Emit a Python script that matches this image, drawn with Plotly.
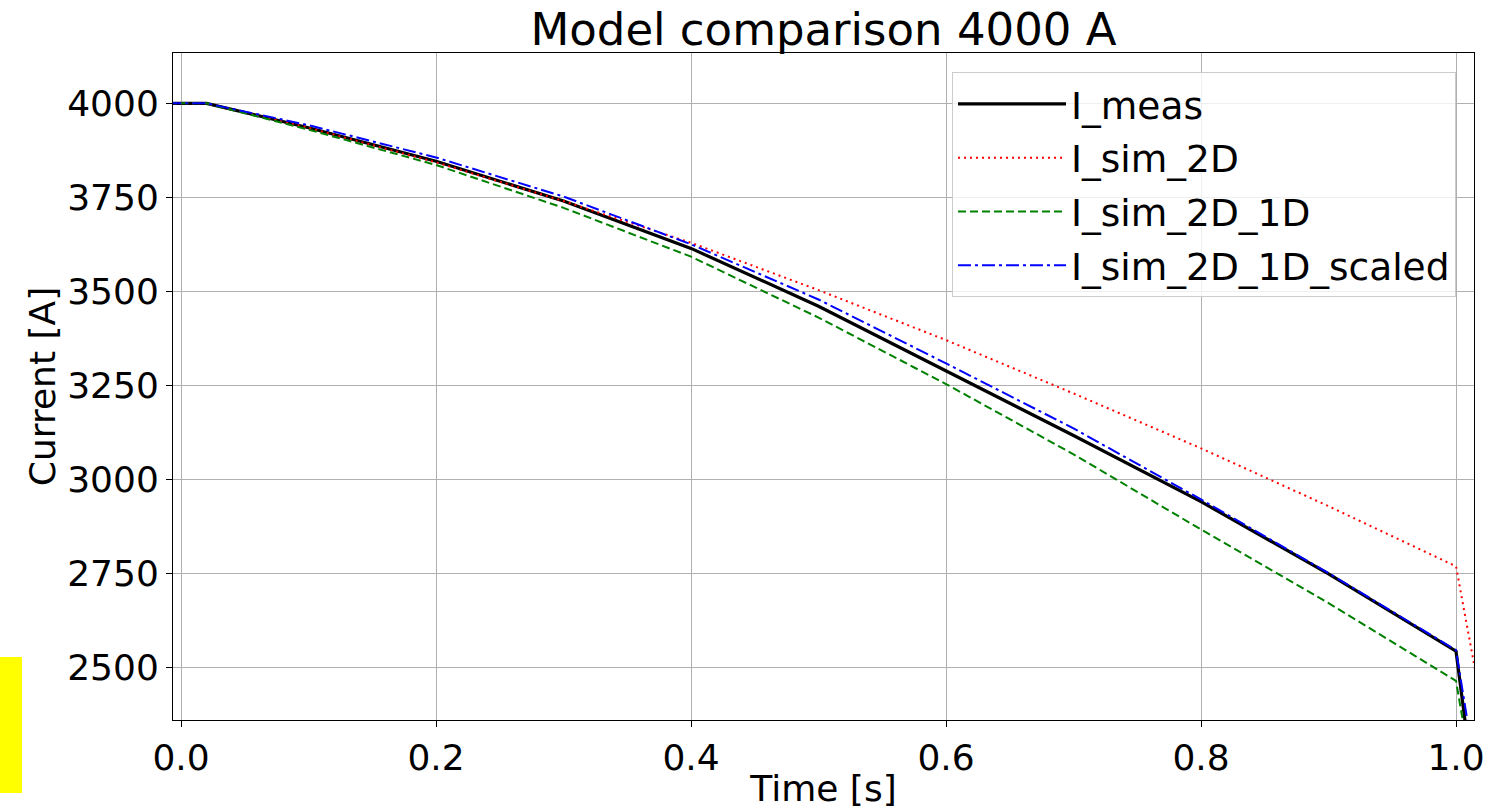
import plotly.graph_objects as go

# ---- data ----
t_meas = [-0.01, 0.0, 0.02, 0.1, 0.2, 0.3, 0.4, 0.5, 0.6, 0.7, 0.8, 0.9, 1.0, 1.01]
i_meas = [4000, 4000, 4000, 3935, 3846, 3740, 3614, 3460, 3287, 3116, 2940, 2748, 2542, 2280]

t_2d = [-0.01, 0.0, 0.02, 0.1, 0.2, 0.3, 0.4, 0.5, 0.6, 0.7, 0.8, 0.9, 1.0, 1.02]
i_2d = [4000, 4000, 4000, 3935, 3843, 3740, 3629, 3503, 3370, 3228, 3082, 2928, 2768, 2400]

t_2d1d = [-0.01, 0.0, 0.02, 0.1, 0.2, 0.3, 0.4, 0.5, 0.6, 0.7, 0.8, 0.9, 1.0, 1.01]
i_2d1d = [4000, 4000, 4000, 3930, 3836, 3722, 3592, 3430, 3253, 3066, 2866, 2670, 2463, 2265]

t_scaled = [-0.01, 0.0, 0.02, 0.1, 0.2, 0.3, 0.4, 0.5, 0.6, 0.7, 0.8, 0.9, 1.0, 1.01]
i_scaled = [4000, 4000, 4000, 3942, 3856, 3752, 3625, 3478, 3308, 3135, 2946, 2750, 2545, 2335]

x_ticks = [0.0, 0.2, 0.4, 0.6, 0.8, 1.0]
x_ticklabels = ["0.0", "0.2", "0.4", "0.6", "0.8", "1.0"]
y_ticks = [2500, 2750, 3000, 3250, 3500, 3750, 4000]
y_ticklabels = ["2500", "2750", "3000", "3250", "3500", "3750", "4000"]

names = ["I_meas", "I_sim_2D", "I_sim_2D_1D", "I_sim_2D_1D_scaled"]

FONT = "DejaVu Sans"
W, H = 1498, 809
L, R, T, B = 173, 1474, 53, 720

fig = go.Figure()
fig.add_trace(go.Scatter(x=t_meas, y=i_meas, mode="lines", name=names[0], legendgroup="a",
                         line=dict(color="black", width=3.2)))
fig.add_trace(go.Scatter(x=t_2d, y=i_2d, mode="lines", name=names[1], legendgroup="b",
                         line=dict(color="red", width=2, dash="2px,4px")))
fig.add_trace(go.Scatter(x=t_2d1d, y=i_2d1d, mode="lines", name=names[2], legendgroup="c",
                         line=dict(color="green", width=2, dash="8px,4px")))
fig.add_trace(go.Scatter(x=t_scaled, y=i_scaled, mode="lines", name=names[3], legendgroup="d",
                         line=dict(color="blue", width=2, dash="13px,4px,3px,4px")))

pw, ph = R - L, B - T

fig.update_layout(
    width=W, height=H,
    margin=dict(l=L, r=W - R, t=T, b=H - B, pad=0, autoexpand=False),
    paper_bgcolor="white", plot_bgcolor="white",
    font=dict(family=FONT, size=36, color="black"),
    title=dict(text="Model comparison 4000 A", font=dict(family=FONT, size=45, color="black"),
               x=(L + R) / 2 / W, xanchor="center", xref="container",
               y=1 - 29 / H, yanchor="middle", yref="container"),
    xaxis=dict(range=[-0.0063, 1.0141], tickvals=x_ticks, ticktext=x_ticklabels,
               showgrid=True, gridcolor="#b0b0b0", gridwidth=1,
               showline=True, linecolor="black", linewidth=1, mirror=True,
               ticks="outside", ticklen=6, tickcolor="black", tickwidth=1,
               zeroline=False, tickfont=dict(size=36), automargin=False,
               title=dict(text="Time [s]", font=dict(size=36), standoff=12)),
    yaxis=dict(range=[2359, 4134], tickvals=y_ticks, ticktext=y_ticklabels,
               showgrid=True, gridcolor="#b0b0b0", gridwidth=1,
               showline=True, linecolor="black", linewidth=1, mirror=True,
               ticks="outside", ticklen=6, tickcolor="black", tickwidth=1,
               zeroline=False, tickfont=dict(size=36), automargin=False,
               title=dict(text="Current [A]", font=dict(size=36), standoff=0)),
    legend=dict(x=(1456 - L) / pw, xanchor="right", y=(B - 72) / ph, yanchor="top",
                bgcolor="rgba(255,255,255,0.8)", bordercolor="#cccccc", borderwidth=1,
                font=dict(size=37.5), tracegroupgap=2, itemwidth=108),
    showlegend=True,
    shapes=[dict(type="rect", xref="paper", yref="paper",
                 x0=(0 - L) / pw, x1=(22 - L) / pw,
                 y0=(B - 793) / ph, y1=(B - 657) / ph,
                 fillcolor="#ffff00", line=dict(width=0), layer="above")],
)

fig.write_html("out.html")
